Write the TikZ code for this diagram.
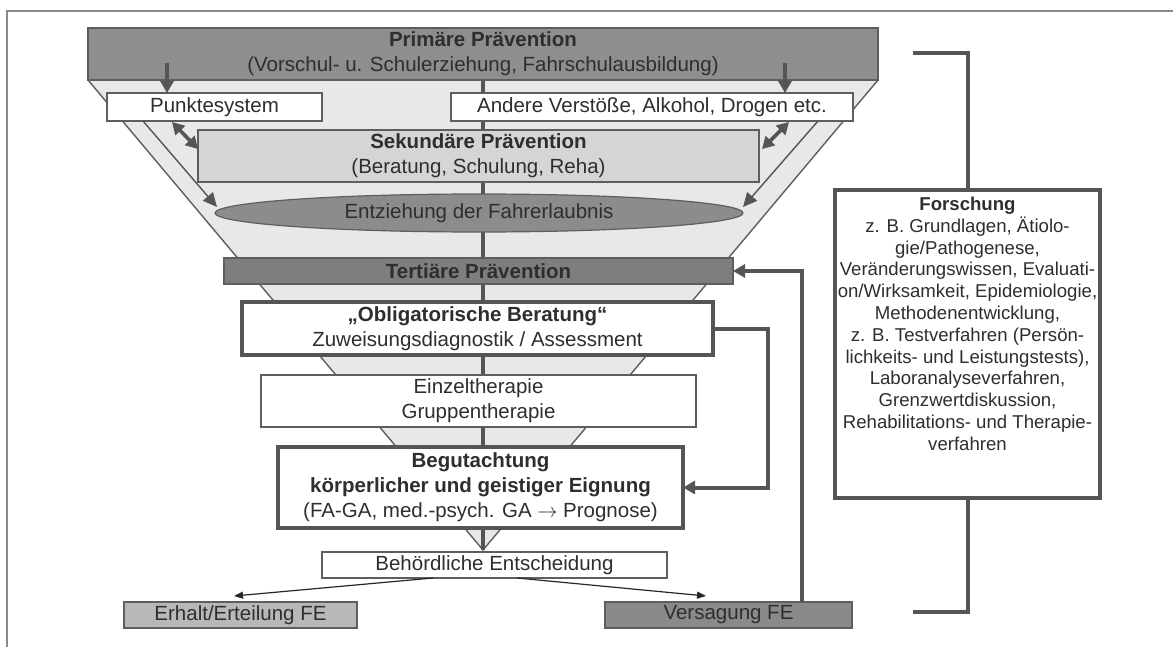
\documentclass[tikz,border=0pt]{standalone}
\usepackage{fontspec}
\setmainfont{Liberation Sans}
\usetikzlibrary{arrows.meta,shapes.geometric}
\definecolor{txt}{HTML}{2E2E2E}
\definecolor{edge}{HTML}{5E5E5E}
\definecolor{dark}{HTML}{555555}
\definecolor{funnelc}{HTML}{E8E8E8}
\definecolor{primc}{HTML}{8E8E8E}
\definecolor{sekc}{HTML}{D5D5D5}
\definecolor{ellc}{HTML}{8C8C8C}
\definecolor{tertc}{HTML}{7E7E7E}
\definecolor{erhc}{HTML}{B8B8B8}
\definecolor{versc}{HTML}{8A8A8A}
\definecolor{framec}{HTML}{8A8A8A}
\begin{document}
\begin{tikzpicture}[x=0.5pt,y=-0.5pt,
  base/.style={inner sep=0pt, outer sep=0pt, text=txt, align=center,
    font=\fontsize{10.25}{12.5}\selectfont},
  sz/.style 2 args={minimum width=#1*0.5pt, minimum height=#2*0.5pt},
  thinbox/.style={base, rectangle, draw=edge, line width=0.75pt, fill=white},
  thickbox/.style={base, rectangle, draw=dark, line width=2pt, fill=white},
  thk/.style={draw=dark, line width=2pt},
  bigtip/.style={-{Triangle[length=6pt,width=6.5pt]}},
  dbltip/.style={{Triangle[length=6pt,width=6.5pt]}-{Triangle[length=6pt,width=6.5pt]}},
  thinarr/.style={draw=black!85, line width=0.6pt, -{Triangle[length=4.5pt,width=3.5pt]}},
  funnelline/.style={draw=edge, line width=0.7pt}
]
\useasboundingbox (0,0) rectangle (1173,647);
% frame
\draw[draw=framec, line width=0.75pt] (7,647) -- (7,11) -- (1173,11);

% funnel
\fill[funnelc] (88,80) -- (878,80) -- (483,550) -- cycle;
\draw[funnelline] (88,80) -- (483,550) -- (878,80);
\coordinate (ctop) at (483,80);
\coordinate (capex) at (483,550);
\draw[thk] (ctop) -- (capex);

% boxes
\node[base, rectangle, draw=edge, line width=0.75pt, fill=primc, sz={790}{52}] (prim) at (483,54)
  {\textbf{Primäre Prävention}\\(Vorschul- u. Schulerziehung, Fahrschulausbildung)};
\node[thinbox, sz={215}{28}] (punkt) at (214.5,107) {Punktesystem};
\node[thinbox, sz={402}{28}] (andere) at (652,107) {Andere Verstöße, Alkohol, Drogen etc.};
\node[thinbox, fill=sekc, sz={561}{52}] (sek) at (478.5,156)
  {\textbf{Sekundäre Prävention}\\(Beratung, Schulung, Reha)};
\node[base, ellipse, draw=edge, line width=0.6pt, fill=ellc, sz={528}{38}] (entz) at (479,213)
  {Entziehung der Fahrerlaubnis};
\node[thinbox, fill=tertc, sz={509}{26}] (tert) at (478.5,271) {\textbf{Tertiäre Prävention}};
\node[thickbox, sz={471}{53}] (oblig) at (477.5,328.5)
  {\textbf{„Obligatorische Beratung“}\\Zuweisungsdiagnostik / Assessment};
\node[thinbox, sz={435}{52}] (einzel) at (478.5,401) {Einzeltherapie\\Gruppentherapie};
\node[thickbox, sz={405}{81}] (begut) at (480.5,487.5)
  {\textbf{Begutachtung}\\\textbf{körperlicher und geistiger Eignung}\\(FA-GA, med.-psych. GA $\rightarrow$ Prognose)};
\node[thinbox, sz={345}{26}] (behoerd) at (494.5,565) {Behördliche Entscheidung};
\node[thinbox, fill=erhc, sz={233}{26}] (erhalt) at (240.5,615) {Erhalt/Erteilung FE};
\node[thinbox, fill=versc, sz={247}{26}] (versag) at (728.5,615) {Versagung FE};

\node[thickbox, sz={265}{308}] (forsch) at (967.5,344) {};
\node[base, anchor=north, font=\fontsize{9.3}{10.9}\selectfont] (forschtext) at (967.5,197)
  {\textbf{Forschung}\\z. B. Grundlagen, Ätiolo-\\gie/Pathogenese,\\Veränderungswissen, Evaluati-\\on/Wirksamkeit, Epidemiologie,\\Methodenentwicklung,\\z. B. Testverfahren (Persön-\\lichkeits- und Leistungstests),\\Laboranalyseverfahren,\\Grenzwertdiskussion,\\Rehabilitations- und Therapie-\\verfahren};

% arrows from primary
\coordinate (pa1) at (167,63);
\coordinate (pa2) at (785,63);
\draw[thk, bigtip] (pa1) -- (pa1 |- punkt.north);
\draw[thk, bigtip] (pa2) -- (pa2 |- andere.north);

% double arrows
\coordinate (da1) at (172,122); \coordinate (da2) at (198,149);
\coordinate (db1) at (789,122); \coordinate (db2) at (762,149);
\draw[thk, line width=1.8pt, dbltip] (da1) -- (da2);
\draw[thk, line width=1.8pt, dbltip] (db1) -- (db2);

% arrows to ellipse
\coordinate (ea1) at (143,121);
\coordinate (ea2) at (818,121);
\draw[funnelline, -{Triangle[length=7pt,width=6.5pt]}, draw=dark, fill=dark] (ea1) -- (217,207) coordinate (ee1);
\draw[funnelline, -{Triangle[length=7pt,width=6.5pt]}, draw=dark, fill=dark] (ea2) -- (743,207) coordinate (ee2);

% oblig -> begut
\draw[thk, bigtip] (oblig.east) -- ++(55,0) |- (begut.east);

% feedback versagung -> tertiaer
\coordinate (fb) at (802,602);
\draw[thk, bigtip] (fb) |- (tert.east);

% decision arrows
\coordinate (bh1) at (433,578);
\coordinate (bh2) at (517,578);
\coordinate (eh1) at (234,596);
\coordinate (vh1) at (706,596);
\draw[thinarr] (bh1) -- (eh1);
\draw[thinarr] (bh2) -- (vh1);

% bracket
\coordinate (br1) at (913,53);
\coordinate (br2) at (913,612);
\draw[thk] (br1) -| (forsch.north);
\draw[thk] (forsch.south) |- (br2);
\end{tikzpicture}
\end{document}
